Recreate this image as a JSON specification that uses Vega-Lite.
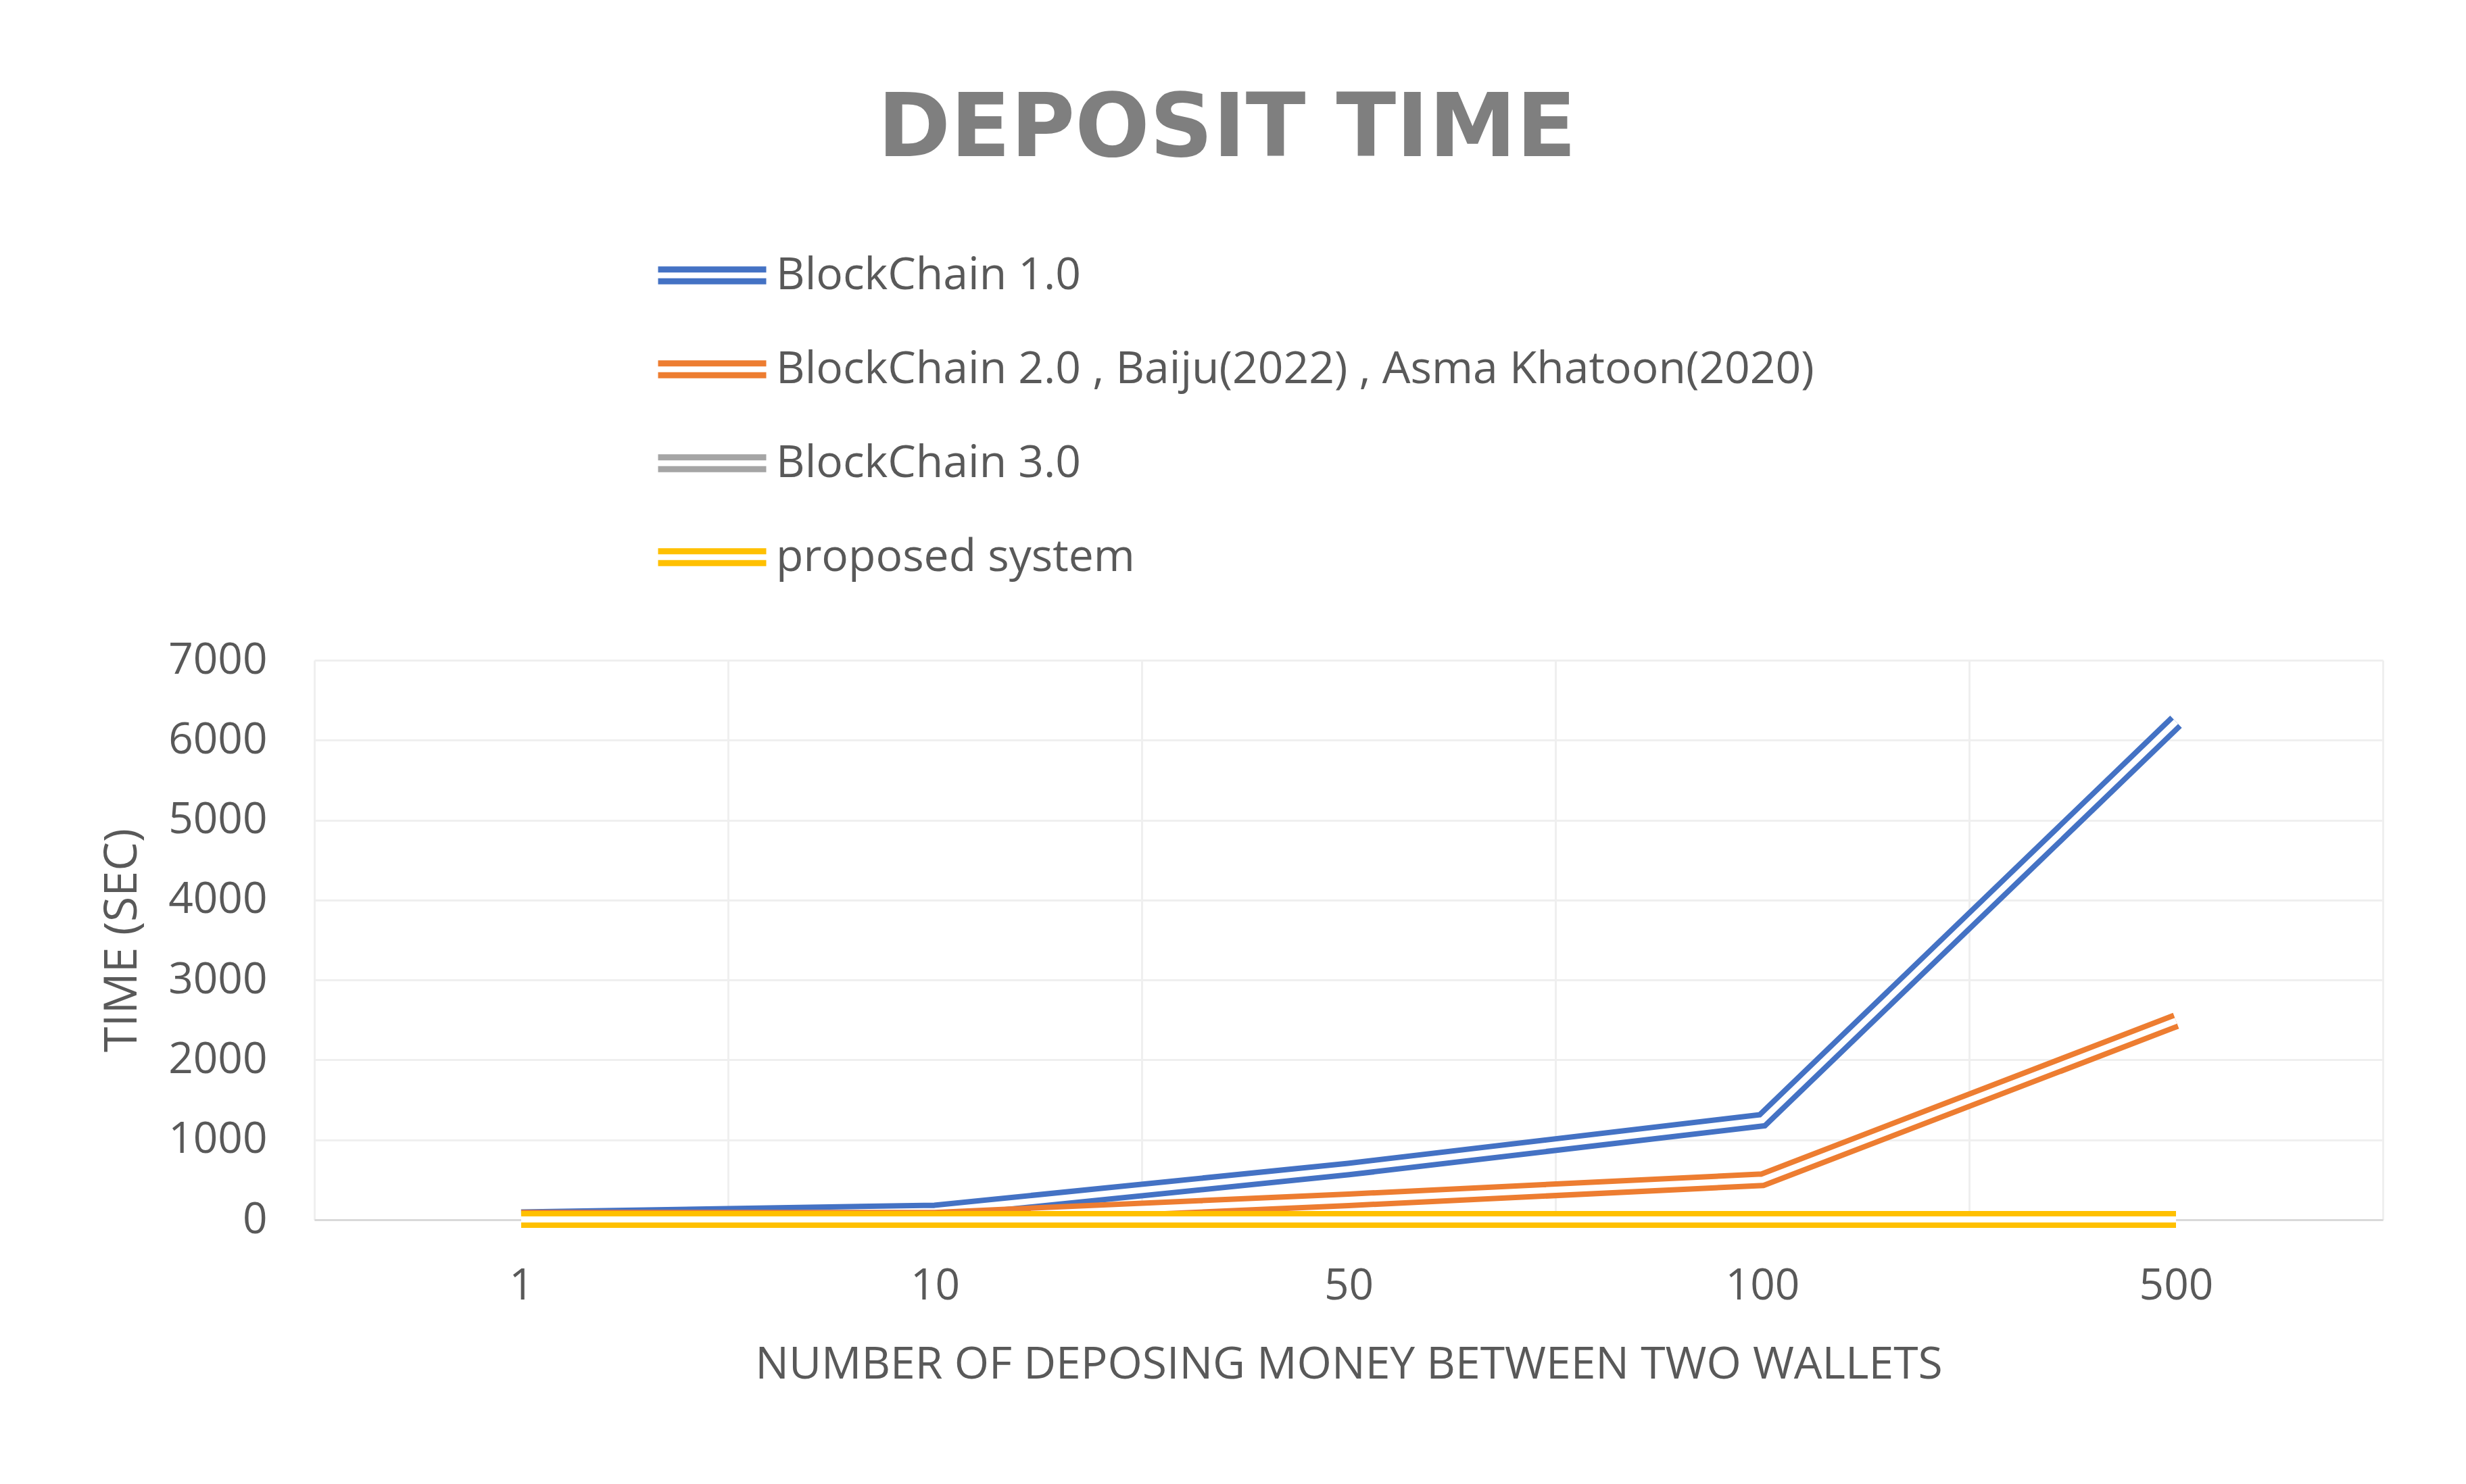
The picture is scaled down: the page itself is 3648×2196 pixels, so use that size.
{
  "$schema": "https://vega.github.io/schema/vega-lite/v6.json",
  "width": 3060,
  "height": 828,
  "autosize": {"type": "none"},
  "padding": {"left": 465, "top": 977, "right": 123, "bottom": 391},
  "background": "white",
  "title": {
    "text": "DEPOSIT TIME",
    "font": "DejaVu Sans",
    "fontSize": 130,
    "fontWeight": "bold",
    "color": "#7f7f7f",
    "anchor": "middle",
    "frame": "group",
    "orient": "top",
    "baseline": "alphabetic",
    "dx": -180,
    "offset": -38
  },
  "data": {
    "values": [
      {"deposits": "1", "series": "BlockChain 1.0", "time": 25},
      {"deposits": "10", "series": "BlockChain 1.0", "time": 110},
      {"deposits": "50", "series": "BlockChain 1.0", "time": 635},
      {"deposits": "100", "series": "BlockChain 1.0", "time": 1245},
      {"deposits": "500", "series": "BlockChain 1.0", "time": 6230},
      {"deposits": "1", "series": "BlockChain 2.0 , Baiju(2022) , Asma Khatoon(2020)", "time": 20},
      {"deposits": "10", "series": "BlockChain 2.0 , Baiju(2022) , Asma Khatoon(2020)", "time": 20},
      {"deposits": "50", "series": "BlockChain 2.0 , Baiju(2022) , Asma Khatoon(2020)", "time": 250},
      {"deposits": "100", "series": "BlockChain 2.0 , Baiju(2022) , Asma Khatoon(2020)", "time": 500},
      {"deposits": "500", "series": "BlockChain 2.0 , Baiju(2022) , Asma Khatoon(2020)", "time": 2490},
      {"deposits": "1", "series": "BlockChain 3.0", "time": 5},
      {"deposits": "10", "series": "BlockChain 3.0", "time": 5},
      {"deposits": "50", "series": "BlockChain 3.0", "time": 5},
      {"deposits": "100", "series": "BlockChain 3.0", "time": 5},
      {"deposits": "500", "series": "BlockChain 3.0", "time": 5},
      {"deposits": "1", "series": "proposed system", "time": 5},
      {"deposits": "10", "series": "proposed system", "time": 5},
      {"deposits": "50", "series": "proposed system", "time": 5},
      {"deposits": "100", "series": "proposed system", "time": 5},
      {"deposits": "500", "series": "proposed system", "time": 5}
    ]
  },
  "encoding": {
    "x": {
      "field": "deposits",
      "type": "ordinal",
      "sort": ["1", "10", "50", "100", "500"],
      "bandPosition": 0.5,
      "scale": {"type": "band", "paddingInner": 0, "paddingOuter": 0},
      "axis": {
        "title": "NUMBER OF DEPOSING MONEY BETWEEN TWO WALLETS",
        "labelAngle": 0,
        "tickBand": "extent",
        "ticks": false,
        "domain": true,
        "domainColor": "#d9d9d9",
        "domainWidth": 3,
        "grid": true,
        "gridColor": "#efefef",
        "gridWidth": 3,
        "labelFont": "Open Sans",
        "labelFontSize": 64,
        "labelColor": "#595959",
        "labelPadding": 66,
        "titleFont": "Open Sans",
        "titleFontSize": 66,
        "titleFontWeight": "normal",
        "titleColor": "#595959",
        "titlePadding": 52
      }
    },
    "y": {
      "field": "time",
      "type": "quantitative",
      "scale": {"domain": [0, 7000], "nice": false},
      "axis": {
        "title": "TIME (SEC)",
        "values": [0, 1000, 2000, 3000, 4000, 5000, 6000, 7000],
        "format": "d",
        "domain": false,
        "ticks": false,
        "grid": true,
        "gridColor": "#efefef",
        "gridWidth": 3,
        "labelFont": "Open Sans",
        "labelFontSize": 64,
        "labelColor": "#595959",
        "labelPadding": 70,
        "titleFont": "Open Sans",
        "titleFontSize": 68,
        "titleFontWeight": "normal",
        "titleColor": "#595959",
        "titlePadding": 50
      }
    }
  },
  "layer": [
    {
      "transform": [{"filter": "datum.series === 'BlockChain 1.0'"}],
      "mark": {"type": "line", "strokeWidth": 25, "strokeCap": "butt"},
      "encoding": {"color": {"field": "series", "type": "nominal"}}
    },
    {
      "transform": [{"filter": "datum.series === 'BlockChain 1.0'"}],
      "mark": {"type": "line", "strokeWidth": 9, "color": "white", "strokeCap": "butt"},
      "encoding": {}
    },
    {
      "transform": [{"filter": "datum.series === 'BlockChain 2.0 , Baiju(2022) , Asma Khatoon(2020)'"}],
      "mark": {"type": "line", "strokeWidth": 25, "strokeCap": "butt"},
      "encoding": {"color": {"field": "series", "type": "nominal"}}
    },
    {
      "transform": [{"filter": "datum.series === 'BlockChain 2.0 , Baiju(2022) , Asma Khatoon(2020)'"}],
      "mark": {"type": "line", "strokeWidth": 9, "color": "white", "strokeCap": "butt"},
      "encoding": {}
    },
    {
      "transform": [{"filter": "datum.series === 'BlockChain 3.0'"}],
      "mark": {"type": "line", "strokeWidth": 25, "strokeCap": "butt"},
      "encoding": {"color": {"field": "series", "type": "nominal"}}
    },
    {
      "transform": [{"filter": "datum.series === 'BlockChain 3.0'"}],
      "mark": {"type": "line", "strokeWidth": 9, "color": "white", "strokeCap": "butt"},
      "encoding": {}
    },
    {
      "transform": [{"filter": "datum.series === 'proposed system'"}],
      "mark": {"type": "line", "strokeWidth": 25, "strokeCap": "butt"},
      "encoding": {"color": {"field": "series", "type": "nominal"}}
    },
    {
      "transform": [{"filter": "datum.series === 'proposed system'"}],
      "mark": {"type": "line", "strokeWidth": 9, "color": "white", "strokeCap": "butt"},
      "encoding": {}
    }
  ],
  "resolve": {"scale": {"color": "shared"}},
  "config": {
    "range": {
      "category": ["#4472C4", "#ED7D31", "#A5A5A5", "#FFC000"]
    },
    "legend": {
      "orient": "none",
      "legendX": 504,
      "legendY": -654,
      "direction": "vertical",
      "title": null,
      "padding": 0,
      "symbolType": "M-1,-0.11H1M-1,0.11H1",
      "symbolSize": 25600,
      "symbolStrokeWidth": 9,
      "labelFont": "Open Sans",
      "labelFontSize": 66,
      "labelColor": "#595959",
      "labelOffset": 10,
      "labelLimit": 3000,
      "rowPadding": 21
    },
    "view": {"stroke": null}
  }
}
